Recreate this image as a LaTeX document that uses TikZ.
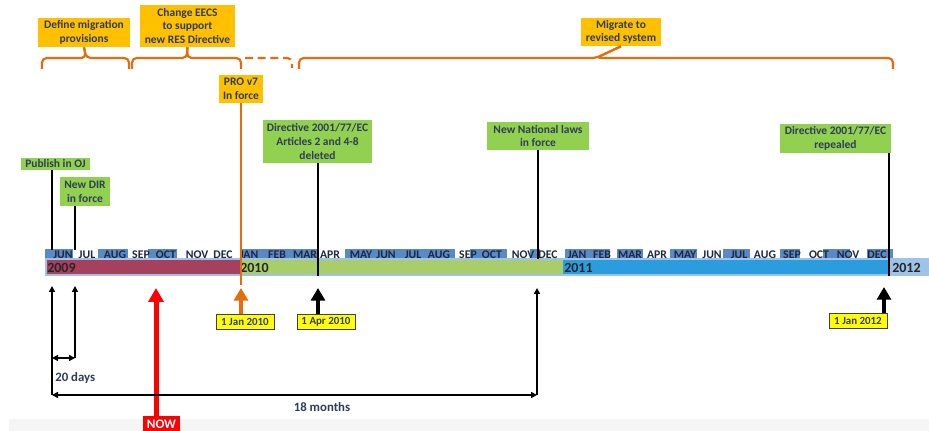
\documentclass[tikz,border=0pt]{standalone}
\usepackage{fontspec}
\setmainfont{Carlito}
\usetikzlibrary{arrows.meta}
\definecolor{txt}{HTML}{2F3C5A}
\definecolor{montxt}{HTML}{1E273D}
\definecolor{gold}{HTML}{FFC000}
\definecolor{brc}{HTML}{E46C0A}
\definecolor{lgreen}{HTML}{92D050}
\definecolor{maroonbar}{HTML}{A5405F}
\definecolor{greenbar}{HTML}{A9CD6B}
\definecolor{bluebar}{HTML}{2B9CDE}
\definecolor{lblue}{HTML}{9DC3E6}
\definecolor{mblue}{HTML}{5A8AC6}
\definecolor{datey}{HTML}{FFFF00}
\definecolor{orangearrow}{HTML}{E46C0A}
\begin{document}
\begin{tikzpicture}[x=0.75pt,y=-0.75pt,
  lbl/.style={font=\bfseries\fontsize{8.6}{10.3}\selectfont, text=txt, align=center, inner sep=0pt},
  goldbox/.style={lbl, fill=gold},
  greenbox/.style={lbl, fill=lgreen},
  datebox/.style={lbl, fill=datey, draw=black!75, line width=0.6pt, font=\bfseries\fontsize{8.2}{9}\selectfont, minimum width=43.5pt, minimum height=11.25pt},
  brace/.style={draw=brc, line width=1.6pt, rounded corners=3.5pt},
  monthlbl/.style={font=\bfseries\fontsize{8.8}{9}\selectfont, text=montxt, inner sep=0pt},
  yearlbl/.style={font=\bfseries\fontsize{10.5}{11}\selectfont, text=black!85, inner sep=0pt, anchor=west},
  vl/.style={draw=black, line width=1.2pt},
  thinarrow/.style={draw=black, line width=1.3pt, -{Triangle[length=4.5pt,width=4.5pt]}},
  botharrow/.style={draw=black, line width=1.3pt, {Triangle[length=4.5pt,width=4.5pt]}-{Triangle[length=4.5pt,width=4.5pt]}},
  thickarrow/.style={line width=3pt, -{Triangle[length=9.5pt,width=10.5pt]}},
  plain/.style={font=\bfseries\fontsize{9.6}{11}\selectfont, text=txt, inner sep=0pt},
]
\useasboundingbox (0,0) rectangle (929,431);
\fill[white] (0,0) rectangle (929,431);
\fill[black!4] (9,419) rectangle (929,431);

% ---- timeline: month row highlights ----
\foreach \a/\b in {45/73, 98/128, 148/177, 240/318, 345/455, 470/507, 530/540, 565/610, 617/643, 670/697, 723/750, 780/800, 823/850, 867/893}
  \fill[mblue] (\a,249.5) rectangle (\b,258.5);
% ---- year bar ----
\fill[lblue] (45,258.5) rectangle (929,276);
\fill[maroonbar] (47,260.5) rectangle (240,274);
\fill[greenbar] (240,260.5) rectangle (563,274);
\fill[bluebar] (563,260.5) rectangle (889,274);

% ---- month labels ----
\foreach \x/\m [count=\i] in {63/JUN, 87/JUL, 115/AUG, 141/SEP, 166/OCT, 197/NOV, 223/DEC,
  249/JAN, 277/FEB, 305/MAR, 330/APR, 361/MAY, 386/JUN, 413/JUL, 439/AUG, 468/SEP, 492/OCT, 523/NOV, 548/DEC,
  577/JAN, 602/FEB, 630/MAR, 657/APR, 685/MAY, 712/JUN, 739/JUL, 765/AUG, 792/SEP, 819/OCT, 848/NOV, 877/DEC}
  \node[monthlbl] (mon\i) at (\x,254.5) {\m};

% ---- year labels ----
\node[yearlbl] (y2009) at (47,267.5) {2009};
\node[yearlbl] (y2010) at (240,267.5) {2010};
\node[yearlbl] (y2011) at (564,267.5) {2011};
\node[yearlbl] (y2012) at (892,267.5) {2012};

% ---- top gold labels ----
\node[goldbox, minimum width=69pt, minimum height=21.75pt] (def) at (84,32.5) {Define migration\\provisions};
\node[goldbox, minimum width=71.25pt, minimum height=31.5pt] (eecs) at (187.5,26) {Change EECS\\to support\\new RES Directive};
\node[goldbox, minimum width=33pt, minimum height=21pt] (pro) at (241,89) {PRO v7\\In force};
\node[goldbox, minimum width=60pt, minimum height=21pt] (mig) at (621,32) {Migrate to\\revised system};

% ---- braces ----
\draw[brace] (42,69) -- (42,58) -- (86,58) -- (def.south);
\draw[brace] (def.south) -- (86,58) -- (129,58) -- (129,69);
\draw[brace] (132,69) -- (132,58) -- (187,58) -- (eecs.south);
\draw[brace] (eecs.south) -- (187,58) -- (241,58) -- (241,69);
\draw[brace, dashed, dash pattern=on 6pt off 3.5pt] (245,58) -- (292,58) -- (292,68);
\draw[brace] (299,69) -- (299,58) -- (596,58) -- (mig.south);
\draw[brace] (mig.south) -- (596,58) -- (893,58) -- (893,69);

% ---- green labels ----
\node[greenbox, minimum width=51.75pt, minimum height=9pt] (pub) at (55.5,164) {Publish in OJ};
\node[greenbox, minimum width=37.5pt, minimum height=21.75pt] (dir) at (85,191.5) {New DIR\\in force};
\node[greenbox, minimum width=81.75pt, minimum height=32.25pt] (del) at (317.5,141.5) {Directive 2001/77/EC\\Articles 2 and 4-8\\deleted};
\node[greenbox, minimum width=76.5pt, minimum height=21pt] (nat) at (538,136) {New National laws\\in force};
\node[greenbox, minimum width=83.25pt, minimum height=21.75pt] (rep) at (835.5,138.5) {Directive 2001/77/EC\\repealed};

% ---- vertical connectors above the bar ----
\coordinate (p1) at (52,250);
\coordinate (d1) at (75,250);
\coordinate (a1) at (318,276);
\coordinate (n1) at (538,259);
\coordinate (r1) at (889,276);
\coordinate (o1) at (241,285);
\draw[vl] (pub.south -| p1) -- (p1);
\draw[vl] (dir.south -| d1) -- (d1);
\draw[vl] (del.south -| a1) -- (a1);
\draw[vl] (nat.south -| n1) -- (n1);
\draw[vl] (rep.south -| r1) -- (r1);
\draw[draw=orangearrow, line width=0.9pt] (pro.south) -- (o1);

% ---- date labels ----
\node[datebox] (jan10) at (245,321.5) {1 Jan 2010};
\node[datebox] (apr10) at (326,321.5) {1 Apr 2010};
\node[datebox] (jan12) at (858,320.5) {1 Jan 2012};

% ---- thick arrows ----
\coordinate (o2) at (241,288);
\coordinate (a2) at (318,288);
\coordinate (r2) at (884,287);
\draw[thickarrow, draw=orangearrow, fill=orangearrow] (jan10.north -| o2) -- (o2);
\draw[thickarrow, draw=black, fill=black] (apr10.north -| a2) -- (a2);
\draw[thickarrow, draw=black, fill=black] (jan12.north -| r2) -- (r2);

% ---- NOW ----
\node[fill=red, text=white, font=\bfseries\fontsize{9.8}{11}\selectfont, minimum width=27.75pt, minimum height=12pt, inner sep=0pt] (now) at (161.5,424) {NOW};
\coordinate (nw) at (156,288);
\draw[draw=red, line width=3.75pt, -{Triangle[length=10.5pt,width=11.25pt]}] (now.north -| nw) -- (nw);

% ---- day/month span arrows ----
\coordinate (p2) at (52,286);
\coordinate (p3) at (52,395);
\coordinate (d2) at (75,286);
\coordinate (d3) at (75,358);
\coordinate (p4) at (52,358);
\coordinate (m1) at (537,395);
\coordinate (m2) at (537,288);
\draw[thinarrow] (p3) -- (p2);
\draw[thinarrow] (d3) -- (d2);
\draw[botharrow] (p4) -- (d3);
\draw[botharrow] (p3) -- (m1);
\draw[thinarrow] (m1) -- (m2);
\node[plain, anchor=west] (days) at (55,378) {20 days};
\node[plain] (months) at (322,407) {18 months};
\end{tikzpicture}
\end{document}
